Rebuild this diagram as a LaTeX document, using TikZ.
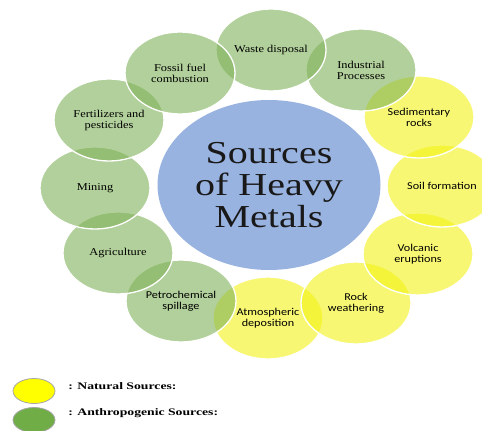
\documentclass[tikz,border=0pt]{standalone}
\usepackage{fontspec}
\setmainfont{Liberation Serif}
\newfontfamily\calibri{Carlito}
\usepackage{tikz}
\usetikzlibrary{shapes.geometric,positioning}
\definecolor{anthgreen}{RGB}{127,177,88}
\definecolor{natyellow}{RGB}{242,242,22}
\definecolor{metalblue}{RGB}{153,179,225}
\definecolor{legyellow}{RGB}{255,255,0}
\definecolor{leggreen}{RGB}{112,173,71}

\begin{document}
\begin{tikzpicture}[x=1pt, y=1pt,
  ring/.style={ellipse, draw=white, line width=1.3pt, fill opacity=0.6, minimum width=110pt, minimum height=82pt, inner sep=0pt},
  lblserif/.style={align=center, inner sep=0pt, font=\fontsize{10.5}{11}\selectfont, xscale=1.18, transform shape},
  lblsans/.style={align=center, inner sep=0pt, font=\calibri\fontsize{10.5}{11}\selectfont, xscale=1.16, transform shape},
  keytext/.style={anchor=west, inner sep=0pt, font=\bfseries\fontsize{10}{12}\selectfont, xscale=1.37, transform shape},
  swatch/.style={ellipse, draw=gray!70, line width=0.8pt, minimum width=42pt, minimum height=25pt, inner sep=0pt}]
  \clip (0,0) rectangle (482,-431);
  \foreach \nm/\x/\y/\col in {atmos/268/318/natyellow, rock/356/303/natyellow, volcano/418/254/natyellow,
      soil/442/186/natyellow, sediment/419/117/natyellow, industry/361/70/anthgreen, waste/271/50/anthgreen,
      petro/181/301/anthgreen, agri/118/253/anthgreen, mining/95/188/anthgreen, fert/109/120/anthgreen,
      fossil/180/73/anthgreen} {
    \node[ring, fill=\col] (\nm) at (\x,-\y) {};
  }
  \node[ellipse, fill=metalblue, minimum width=223pt, minimum height=170pt, inner sep=0pt] (metals) at (269,-185) {};
  \node[align=center, text=black!90, font=\fontsize{32}{32}\selectfont, xscale=1.25, transform shape] (title) at (metals) {Sources\\of Heavy\\Metals};
  \foreach \nm/\txt in {waste/{Waste disposal}, industry/{Industrial\\Processes}, fossil/{Fossil fuel\\combustion},
      fert/{Fertilizers and\\pesticides}, mining/Mining, agri/Agriculture} {
    \node[lblserif] (\nm-txt) at (\nm) {\txt};
  }
  \foreach \nm/\txt in {sediment/{Sedimentary\\rocks}, soil/{Soil formation}, volcano/{Volcanic\\eruptions},
      rock/{Rock\\weathering}, atmos/{Atmospheric\\deposition}, petro/{Petrochemical\\spillage}} {
    \node[lblsans] (\nm-txt) at (\nm) {\txt};
  }
  \node[swatch, fill=legyellow] (natkey) at (34,-391) {};
  \node[swatch, fill=leggreen] (anthkey) at (34,-420) {};
  \node[keytext] (natlbl) at (68,-386) {: Natural Sources:};
  \node[keytext] (anthlbl) at (68,-413) {: Anthropogenic Sources:};
\end{tikzpicture}
\end{document}
